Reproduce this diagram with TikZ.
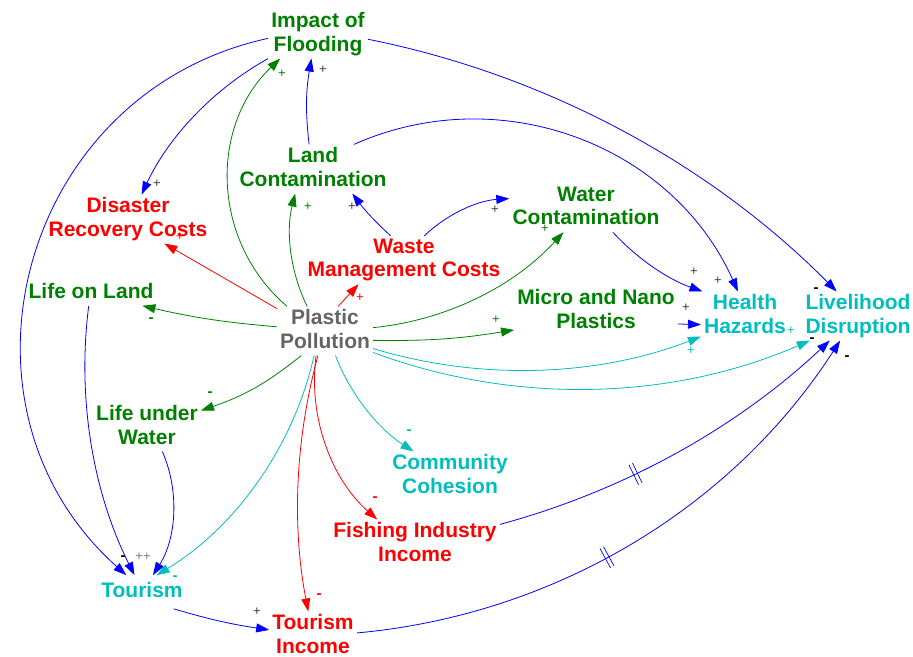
\documentclass[tikz,border=0pt]{standalone}
\usepackage{fontspec}
\setmainfont{Liberation Sans}
\usetikzlibrary{arrows.meta,decorations.markings}
\definecolor{cGreen}{RGB}{0,128,0}
\definecolor{cRed}{RGB}{255,0,0}
\definecolor{cCyan}{RGB}{0,190,190}
\definecolor{cGray}{RGB}{100,100,100}
\definecolor{cBlue}{RGB}{0,0,255}
\definecolor{cDark}{RGB}{60,60,60}
\definecolor{cLight}{RGB}{120,120,120}
\begin{document}
\begin{tikzpicture}[x=1pt,y=-1pt,
  var/.style={font=\fontsize{21}{23.5}\selectfont\bfseries, align=center, inner xsep=3pt, inner ysep=3pt, text depth=4pt},
  lnk/.style={line width=0.8pt, -{Triangle[length=13pt,width=9pt]}},
  pol/.style={font=\fontsize{13}{13}\selectfont, inner sep=0pt},
  neg/.style={font=\fontsize{15}{15}\selectfont\bfseries, inner sep=0pt},
  hash/.style={postaction={decorate,decoration={markings,mark=at position #1 with {\draw[line width=0.7pt,-] (-2pt,-11pt)--(-2pt,11pt) (2pt,-11pt)--(2pt,11pt);}}}}
]
\useasboundingbox (0,0) rectangle (913,656);

% variables
\node[var,text=cGreen] (IF)  at (318,34)  {Impact of\\Flooding};
\node[var,text=cRed]   (DRC) at (128,219) {Disaster\\Recovery Costs};
\node[var,text=cGreen] (LC)  at (313,169) {Land\\Contamination};
\node[var,text=cRed]   (WMC) at (404,260) {Waste\\Management Costs};
\node[var,text=cGreen] (WC)  at (586,208) {Water\\Contamination};
\node[var,text=cGreen] (LoL) at (91,293)  {Life on Land};
\node[var,text=cGreen] (MNP) at (596,311) {Micro and Nano\\Plastics};
\node[var,text=cGray]  (PP)  at (325,331) {Plastic\\Pollution};
\node[var,text=cCyan]  (HH)  at (745,316) {Health\\Hazards};
\node[var,text=cCyan]  (LD)  at (858,316) {Livelihood\\Disruption};
\node[var,text=cGreen] (LuW) at (147,427) {Life under\\Water};
\node[var,text=cCyan]  (CC)  at (450,476) {Community\\Cohesion};
\node[var,text=cRed]   (FII) at (415,544) {Fishing Industry\\Income};
\node[var,text=cCyan,inner ysep=7pt] (T) at (142,592) {Tourism};
\node[var,text=cRed]   (TI)  at (313,636) {Tourism\\Income};

% blue links
\draw[lnk,cBlue] (IF.south west) to[bend right=18, looseness=0.87] (DRC.61);
\draw[lnk,cBlue] (IF.185) to[bend right=63, looseness=1.17] (T.133);
\draw[lnk,cBlue] (IF.354) to[bend left=17, looseness=0.87] (LD.131);
\draw[lnk,cBlue] (LC.99) to[bend left=8] (IF.255);
\draw[lnk,cBlue] (LC.31) to[bend left=45] (HH.106);
\draw[lnk,cBlue] (WMC.119) to[bend left=5] (LC.328);
\draw[lnk,cBlue] (WMC.50) to[bend left=20, looseness=0.88] (WC.173);
\draw[lnk,cBlue] (WC.318) to[bend right=14, looseness=0.87] (HH.150);
\draw[lnk,cBlue] (MNP.351) -- (HH.191);
\draw[lnk,cBlue] (LoL.260) to[bend right=17, looseness=0.87] (T.114);
\draw[lnk,cBlue] (LuW.302) to[bend left=28, looseness=0.9] (T.57);
\draw[lnk,cBlue] (T.332) to[bend right=4] (TI.172);
\draw[lnk,cBlue,hash=0.38] (FII.13) to[bend right=14, looseness=0.87] (LD.221);
\draw[lnk,cBlue,hash=0.45] (TI.4) to[bend right=26, looseness=0.9] (LD.234);

% green links
\draw[lnk,cGreen] (PP.147) to[bend left=48, looseness=1.02] (IF.213);
\draw[lnk,cGreen] (PP.126) to[bend left=20, looseness=0.88] (LC.234);
\draw[lnk,cGreen] (PP.175) to[bend left=4] (LoL.346);
\draw[lnk,cGreen] (PP.4) to[bend right=21, looseness=0.88] (WC.227);
\draw[lnk,cGreen] (PP.349) to[bend right=5] (MNP.193);
\draw[lnk,cGreen] (PP.226) to[bend left=10] (LuW.17);

% red links
\draw[lnk,cRed] (PP.155) -- (DRC.326);
\draw[lnk,cRed] (PP.62) -- (WMC.208);
\draw[lnk,cRed] (PP.254) to[bend right=13, looseness=0.87] (TI.101);
\draw[lnk,cRed] (PP.250) to[bend right=28, looseness=0.9] (FII.147);

% cyan links
\draw[lnk,cCyan] (PP.340) to[bend right=19, looseness=0.87] (HH.205);
\draw[lnk,cCyan] (PP.336) to[bend right=22, looseness=0.88] (LD.207);
\draw[lnk,cCyan] (PP.246) to[bend left=23, looseness=0.88] (T.49);
\draw[lnk,cCyan] (PP.293) to[bend right=18, looseness=0.87] (CC.146);

% polarity labels
\node[pol,text=cDark]  (l1)  at (157,184) {+};
\node[pol,text=cDark]  (l2)  at (323,70)  {+};
\node[pol,text=cGreen] (l3)  at (282,74)  {+};
\node[pol,text=cGreen] (l4)  at (308,207) {+};
\node[pol,text=cDark]  (l5)  at (352,207) {+};
\node[pol,text=cRed]   (l6)  at (180,237) {+};
\node[pol,text=cRed]   (l7)  at (360,298) {+};
\node[neg,text=cGreen] (l8)  at (151,320) {-};
\node[pol,text=cDark]  (l9)  at (495,210) {+};
\node[pol,text=cGreen] (l10) at (545,229) {+};
\node[pol,text=cDark]  (l11) at (694,272) {+};
\node[pol,text=cDark]  (l12) at (718,281) {+};
\node[neg,text=black]  (l13) at (816,290) {-};
\node[pol,text=cDark]  (l14) at (686,308) {+};
\node[pol,text=cGreen] (l15) at (496,320) {+};
\node[pol,text=cCyan]  (l16) at (691,351) {+};
\node[pol,text=cCyan]  (l17) at (791,331) {+};
\node[neg,text=black]  (l18) at (812,340) {-};
\node[neg,text=black]  (l19) at (847,358) {-};
\node[neg,text=cGreen] (l20) at (210,394) {-};
\node[neg,text=cCyan]  (l21) at (409,432) {-};
\node[neg,text=cRed]   (l22) at (375,499) {-};
\node[neg,text=cRed]   (l23) at (319,596) {-};
\node[neg,text=black]  (l24) at (123,558) {-};
\node[pol,text=cLight] (l25) at (143,557) {++};
\node[neg,text=cCyan]  (l26) at (175,578) {-};
\node[pol,text=cDark]  (l27) at (257,612) {+};
\end{tikzpicture}
\end{document}
